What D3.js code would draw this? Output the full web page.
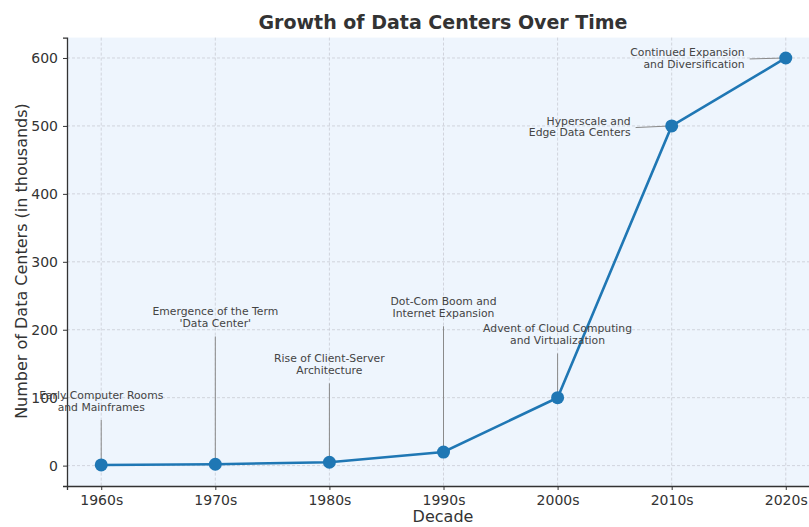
<!DOCTYPE html>
<html>
<head>
<meta charset="utf-8">
<script src="https://cdn.jsdelivr.net/npm/d3@7"></script>
<style>
  body { margin: 0; background: #fff; }
  svg text { font-family: "DejaVu Sans", sans-serif; }
</style>
</head>
<body>
<svg id="chart"></svg>
<script>
// data
const decades = ["1960s", "1970s", "1980s", "1990s", "2000s", "2010s", "2020s"];
const centers = [1, 2, 5, 20, 100, 500, 600];
const yTicks = [0, 100, 200, 300, 400, 500, 600];
const notes = [
  ["Early Computer Rooms", "and Mainframes"],
  ["Emergence of the Term", "'Data Center'"],
  ["Rise of Client-Server", "Architecture"],
  ["Dot-Com Boom and", "Internet Expansion"],
  ["Advent of Cloud Computing", "and Virtualization"],
  ["Hyperscale and", "Edge Data Centers"],
  ["Continued Expansion", "and Diversification"]
];
// where each note sits (index offset, value) and how it's anchored
const noteX = [0, 1, 2, 3, 4, 4.64, 5.64];
const noteY = [98, 221, 152, 236, 196, 502, 603];
const noteAnchor = ["middle", "middle", "middle", "middle", "middle", "end", "end"];

var width = 809,
  height = 527;

const svg = d3.select("#chart").attr("width", width).attr("height", height);

const x = d3.scaleLinear().domain([-0.3, 6.3]).range([67, 820]);
const y = d3.scaleLinear().domain([-30, 630]).range([486, 37.6]);

// plot background
svg.append("rect")
  .attr("x", x(-0.3)).attr("y", y(630))
  .attr("width", x(6.3) - x(-0.3)).attr("height", y(-30) - y(630))
  .attr("fill", "#eef5fd");

// grid
const grid = svg.append("g").attr("stroke", "#c9ccd4").attr("stroke-width", 0.8)
  .attr("stroke-dasharray", "3,2");
grid.selectAll("line.v").data(decades).join("line")
  .attr("x1", (d, i) => x(i)).attr("x2", (d, i) => x(i))
  .attr("y1", y(630)).attr("y2", y(-30));
grid.selectAll("line.h").data(yTicks).join("line")
  .attr("x1", x(-0.3)).attr("x2", x(6.3))
  .attr("y1", d => y(d)).attr("y2", d => y(d));

// axes
const xAxis = svg.append("g")
  .attr("transform", `translate(0, ${y(-30)})`)
  .call(d3.axisBottom(x).tickValues(d3.range(decades.length))
    .tickFormat(i => decades[i]).tickSize(4).tickPadding(5));
const yAxis = svg.append("g")
  .attr("transform", `translate(${x(-0.3)}, 0)`)
  .call(d3.axisLeft(y).tickValues(yTicks).tickSize(4).tickPadding(5));
[xAxis, yAxis].forEach(function (a) {
  a.select(".domain").attr("stroke", "#333").attr("stroke-width", 1.3);
  a.selectAll(".tick line").attr("stroke", "#333");
  a.selectAll("text").attr("fill", "#333").style("font-size", "14px")
    .style("font-family", "DejaVu Sans, sans-serif");
});

// annotation leader lines
svg.append("g").selectAll("line").data(notes).join("line")
  .attr("x1", function (d, i) {
    return noteAnchor[i] == "end" ? x(noteX[i]) + 5 : x(noteX[i]);
  })
  .attr("y1", function (d, i) {
    return noteAnchor[i] == "end" ? y(noteY[i]) + 3 : y(noteY[i]) + 21;
  })
  .attr("x2", (d, i) => x(i)).attr("y2", (d, i) => y(centers[i]))
  .attr("stroke", "#8a8a8a").attr("stroke-width", 1);

// line + markers
const line = d3.line().x((d, i) => x(i)).y(d => y(d));
svg.append("path").datum(centers)
  .attr("d", line).attr("fill", "none")
  .attr("stroke", "#1f77b4").attr("stroke-width", 2.6);
svg.append("g").selectAll("circle").data(centers).join("circle")
  .attr("cx", (d, i) => x(i)).attr("cy", d => y(d)).attr("r", 6.5)
  .attr("fill", "#1f77b4");

// annotation text
const noteText = svg.append("g").selectAll("text").data(notes).join("text")
  .attr("x", (d, i) => x(noteX[i]))
  .attr("y", (d, i) => y(noteY[i]))
  .attr("text-anchor", (d, i) => noteAnchor[i])
  .attr("fill", "#444")
  .style("font-size", "10.8px");
noteText.each(function (d) {
  const t = d3.select(this);
  t.append("tspan").attr("x", t.attr("x")).attr("dy", 0).text(d[0]);
  t.append("tspan").attr("x", t.attr("x")).attr("dy", "1.1em").text(d[1]);
});

// title and axis labels
svg.append("text")
  .attr("x", 443).attr("y", 29)
  .attr("text-anchor", "middle")
  .style("font-size", "19px").style("font-weight", "bold")
  .attr("fill", "#333")
  .text("Growth of Data Centers Over Time");
svg.append("text")
  .attr("x", 443).attr("y", 522)
  .attr("text-anchor", "middle")
  .style("font-size", "16px").attr("fill", "#333")
  .text("Decade");
svg.append("text")
  .attr("transform", "rotate(-90)")
  .attr("x", -261).attr("y", 27)
  .attr("text-anchor", "middle")
  .style("font-size", "16px").attr("fill", "#333")
  .text("Number of Data Centers (in thousands)");
</script>
</body>
</html>
